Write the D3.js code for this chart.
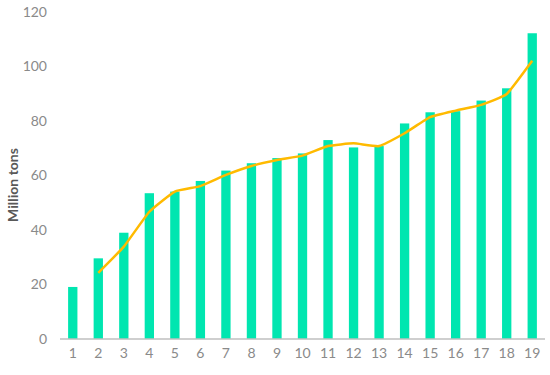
<!DOCTYPE html>
<html>
<head>
<meta charset="utf-8">
<script src="https://cdn.jsdelivr.net/npm/d3@7"></script>
<style>
  html, body { margin: 0; padding: 0; background: #fff; }
  svg { display: block; font-family: Lato, "Open Sans", "Liberation Sans", sans-serif; }
</style>
</head>
<body>
<div id="chart"></div>
<script>
const categories = ["1","2","3","4","5","6","7","8","9","10","11","12","13","14","15","16","17","18","19"];
const barValues = [19.1, 29.6, 39.0, 53.5, 54.1, 58.0, 61.8, 64.5, 66.4, 68.1, 73.0, 70.3, 70.8, 79.1, 83.2, 83.6, 87.5, 92.0, 112.2];
const lineCategories = ["2","3","4","5","6","7","8","9","10","11","12","13","14","15","16","17","18","19"];
const lineValues = [24.3, 33.9, 46.7, 54.1, 56.1, 60.2, 63.5, 65.7, 67.3, 70.8, 71.8, 70.8, 75.5, 81.4, 83.8, 85.9, 89.9, 102.1];
const yTicks = [0, 20, 40, 60, 80, 100, 120];
const yTitle = "Million tons";

const W = 550, H = 375;
const svg = d3.select("#chart").append("svg").attr("width", W).attr("height", H);

const x = d3.scaleBand().domain(categories).range([60, 545]).paddingInner(0.635).paddingOuter(0.3175);
const y = d3.scaleLinear().domain([0, 120]).range([339, 12]);

// bars
svg.append("g").selectAll("rect").data(barValues).join("rect")
  .attr("x", (d, i) => x(categories[i]))
  .attr("width", x.bandwidth())
  .attr("y", d => y(d))
  .attr("height", d => y(0) - y(d))
  .attr("fill", "#00E6B0");

// y axis labels
const yAxis = d3.axisLeft(y).tickValues(yTicks).tickSize(0).tickPadding(8);
const gy = svg.append("g").attr("transform", "translate(55,0)").call(yAxis);
gy.select(".domain").remove();
gy.selectAll("text").attr("fill", "#8a8a8a").style("font-size", "14px").style("font-family", "Lato, sans-serif");

// x axis
const xAxis = d3.axisBottom(x).tickSize(0).tickPadding(9);
const gx = svg.append("g").attr("transform", `translate(0,${y(0)})`).call(xAxis);
gx.select(".domain").attr("stroke", "#bfbfbf").attr("stroke-width", 1.5).attr("d", "M60,0H545");
gx.selectAll("text").attr("fill", "#8a8a8a").style("font-size", "14px").style("font-family", "Lato, sans-serif");

// line
const line = d3.line()
  .x((d, i) => x(lineCategories[i]) + x.bandwidth() / 2)
  .y(d => y(d))
  .curve(d3.curveCardinal.tension(0.6));
svg.append("path").datum(lineValues)
  .attr("d", line)
  .attr("fill", "none")
  .attr("stroke", "#FFBA00")
  .attr("stroke-width", 2.5)
  .attr("stroke-linejoin", "round");

// y title
svg.append("text")
  .attr("transform", "translate(18,185) rotate(-90)")
  .attr("text-anchor", "middle")
  .attr("fill", "#595959")
  .style("font-size", "14px")
  .style("font-weight", "bold")
  .text(yTitle);
</script>
</body>
</html>
